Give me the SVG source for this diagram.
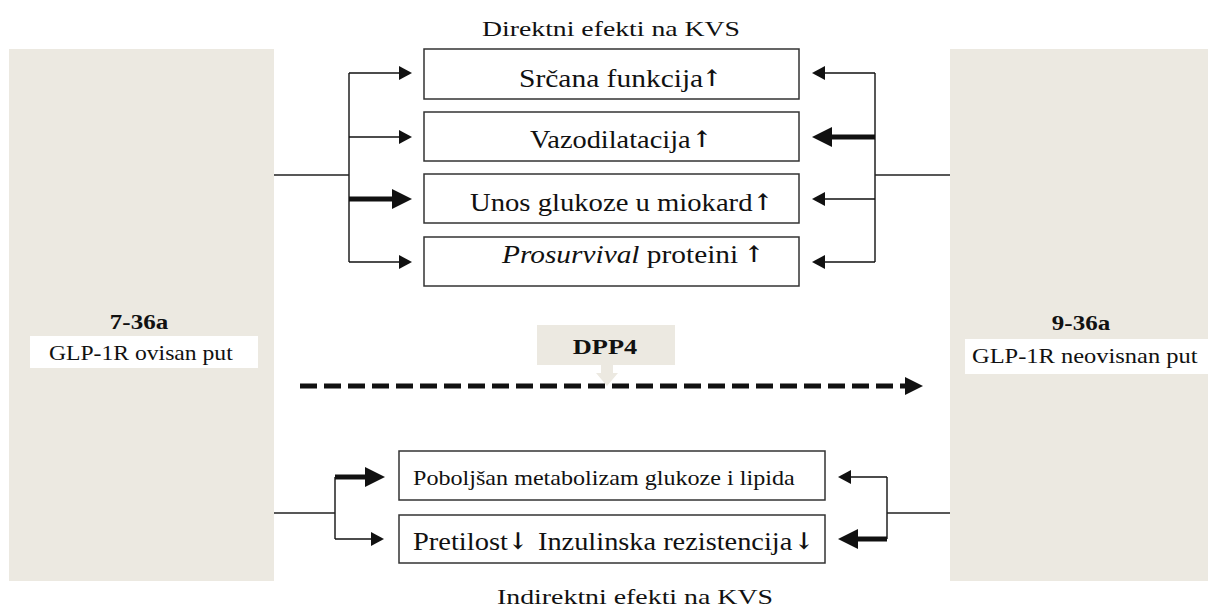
<svg xmlns="http://www.w3.org/2000/svg" width="1208" height="615" viewBox="0 0 1208 615">
<style>
.bg{fill:#ece9e1}
.box{fill:#fff;stroke:#333;stroke-width:1.5}
.lbl{fill:#fff}
.t{font-family:"Liberation Serif","Times New Roman",serif;fill:#111}
.b{font-weight:bold}
.ar{font-weight:bold;font-family:"DejaVu Serif","Liberation Serif",serif;font-size:23px;fill:#111;text-anchor:middle}
.ln{fill:none;stroke:#222;stroke-width:1.5}
.thin{fill:none;stroke:#111;stroke-width:1.6;marker-end:url(#ah)}
.thick{fill:none;stroke:#111;stroke-width:5;marker-end:url(#ahb)}
.dash{fill:none;stroke:#111;stroke-width:5;stroke-dasharray:17 7}
</style>
<defs>
<marker id="ah" markerUnits="userSpaceOnUse" markerWidth="13" markerHeight="14" refX="0" refY="7" orient="auto" viewBox="0 0 13 14">
<path d="M0,0 L13,7 L0,14 Z" fill="#111"/>
</marker>
<marker id="ahb" markerUnits="userSpaceOnUse" markerWidth="20" markerHeight="20" refX="0" refY="10" orient="auto" viewBox="0 0 20 20">
<path d="M0,0 L20,10 L0,20 Z" fill="#111"/>
</marker>
</defs>
<rect width="1208" height="615" fill="#fff"/>

<g id="left-panel">
<rect class="bg" x="9" y="49" width="265" height="532"/>
<g transform="translate(139,329) scale(1.1,1)"><text class="t b" x="0" y="0" font-size="22" text-anchor="middle" textLength="53" lengthAdjust="spacingAndGlyphs">7-36a</text></g>
<rect class="lbl" x="30" y="336" width="228" height="32"/>
<g transform="translate(49,360) scale(1.1,1)"><text class="t" x="0" y="0" font-size="22" textLength="167" lengthAdjust="spacingAndGlyphs">GLP-1R ovisan put</text></g>
</g>

<g id="right-panel">
<rect class="bg" x="950" y="49" width="258" height="532"/>
<g transform="translate(1081,330) scale(1.1,1)"><text class="t b" x="0" y="0" font-size="22" text-anchor="middle" textLength="53" lengthAdjust="spacingAndGlyphs">9-36a</text></g>
<rect class="lbl" x="965" y="339" width="243" height="35"/>
<g transform="translate(972,363) scale(1.1,1)"><text class="t" x="0" y="0" font-size="22" textLength="205" lengthAdjust="spacingAndGlyphs">GLP-1R neovisnan put</text></g>
</g>

<g id="title-direct">
<g transform="translate(482,36) scale(1.2,1)"><text class="t" x="0" y="0" font-size="22" textLength="215" lengthAdjust="spacingAndGlyphs">Direktni efekti na KVS</text></g>
</g>

<g id="box-srcana">
<rect class="box" x="424" y="49" width="375" height="50"/>
<g transform="translate(519,87) scale(1.13,1)"><text class="t" x="0" y="0" font-size="25" textLength="163" lengthAdjust="spacingAndGlyphs">Srčana funkcija</text></g>
<text class="ar" x="712" y="86">↑</text>
</g>
<g id="box-vazo">
<rect class="box" x="424" y="112" width="375" height="49"/>
<g transform="translate(530,148) scale(1.1,1)"><text class="t" x="0" y="0" font-size="25" textLength="146" lengthAdjust="spacingAndGlyphs">Vazodilatacija</text></g>
<text class="ar" x="702" y="147">↑</text>
</g>
<g id="box-unos">
<rect class="box" x="424" y="174" width="375" height="49"/>
<g transform="translate(470,211) scale(1.13,1)"><text class="t" x="0" y="0" font-size="25" textLength="250" lengthAdjust="spacingAndGlyphs">Unos glukoze u miokard</text></g>
<text class="ar" x="763" y="210">↑</text>
</g>
<g id="box-prosurvival">
<rect class="box" x="424" y="237" width="375" height="49"/>
<g transform="translate(502,263) scale(1.13,1)"><text class="t" x="0" y="0" font-size="25" textLength="209" lengthAdjust="spacingAndGlyphs"><tspan font-style="italic">Prosurvival</tspan> proteini</text></g>
<text class="ar" x="754" y="262">↑</text>
</g>

<g id="dpp4">
<rect class="bg" x="537" y="325" width="138" height="40"/>
<path class="bg" d="M601,365 L613,365 L613,373 L618,373 L607,386 L596,373 L601,373 Z"/>
<g transform="translate(605,354) scale(1.15,1)"><text class="t b" x="0" y="0" font-size="22" text-anchor="middle" textLength="56" lengthAdjust="spacingAndGlyphs">DPP4</text></g>
</g>

<g id="box-poboljsan">
<rect class="box" x="399" y="451" width="426" height="49"/>
<g transform="translate(413,485) scale(1.1,1)"><text class="t" x="0" y="0" font-size="22" textLength="347" lengthAdjust="spacingAndGlyphs">Poboljšan metabolizam glukoze i lipida</text></g>
</g>
<g id="box-pretilost">
<rect class="box" x="399" y="515" width="426" height="48"/>
<g transform="translate(413,550) scale(1.13,1)"><text class="t" x="0" y="0" font-size="25" textLength="84" lengthAdjust="spacingAndGlyphs">Pretilost</text></g>
<text class="ar" x="518" y="549">↓</text>
<g transform="translate(538,550) scale(1.13,1)"><text class="t" x="0" y="0" font-size="25" textLength="225" lengthAdjust="spacingAndGlyphs">Inzulinska rezistencija</text></g>
<text class="ar" x="804" y="549">↓</text>
</g>

<g id="title-indirect">
<g transform="translate(497,604) scale(1.2,1)"><text class="t" x="0" y="0" font-size="22" textLength="230" lengthAdjust="spacingAndGlyphs">Indirektni efekti na KVS</text></g>
</g>

<g id="connectors">
<path class="ln" d="M274,175 H349 M349,73 V262"/>
<path class="thin" d="M349,73 H399"/>
<path class="thin" d="M349,137 H399"/>
<path class="thick" d="M349,199 H392"/>
<path class="thin" d="M349,262 H399"/>
<path class="ln" d="M950,175 H875 M875,73 V262"/>
<path class="thin" d="M875,73 H825"/>
<path class="thick" d="M875,137 H832"/>
<path class="thin" d="M875,199 H825"/>
<path class="thin" d="M875,262 H825"/>
<path class="dash" d="M300,386 H905"/>
<path d="M905,377 L923,386 L905,395 Z" fill="#111"/>
<path class="ln" d="M274,513 H335 M335,477 V539"/>
<path class="thick" d="M335,477 H365"/>
<path class="thin" d="M335,539 H371"/>
<path class="ln" d="M950,513 H887 M887,477 V539"/>
<path class="thin" d="M887,477 H851"/>
<path class="thick" d="M887,539 H858"/>
</g>
</svg>
